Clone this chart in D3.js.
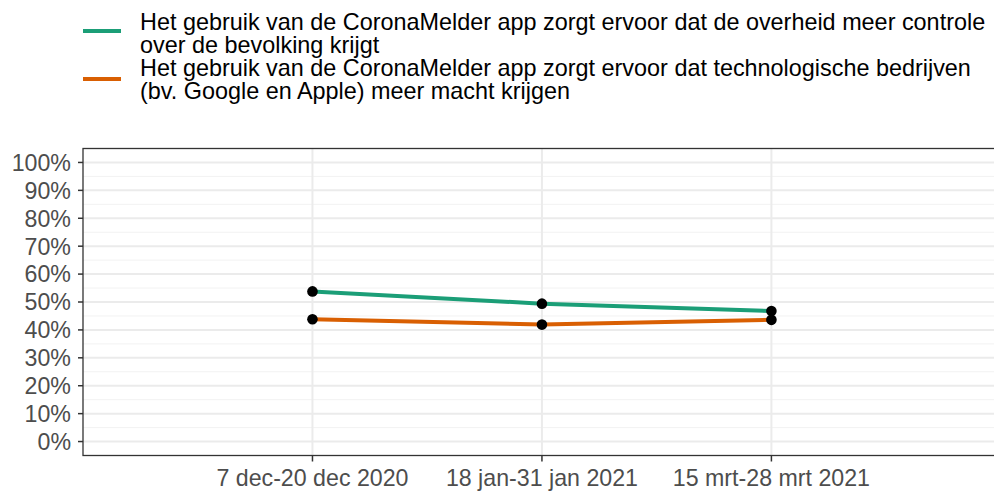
<!DOCTYPE html>
<html>
<head>
<meta charset="utf-8">
<script src="https://cdn.jsdelivr.net/npm/d3@7"></script>
<style>
  body { margin: 0; background: #fff; }
  svg { display: block; font-family: "Liberation Sans", Arial, sans-serif; }
</style>
</head>
<body>
<svg id="chart" width="994" height="492"></svg>
<script>
// Survey periods
const periods = ["7 dec-20 dec 2020", "18 jan-31 jan 2021", "15 mrt-28 mrt 2021"];

// Share agreeing with each statement (%)
const overheidControle = [53.8, 49.4, 46.8];
const techMacht = [43.8, 41.9, 43.6];

const seriesLabels = [
  ["Het gebruik van de CoronaMelder app zorgt ervoor dat de overheid meer controle", "over de bevolking krijgt"],
  ["Het gebruik van de CoronaMelder app zorgt ervoor dat technologische bedrijven", "(bv. Google en Apple) meer macht krijgen"]
];
const seriesColors = ["#1b9e77", "#d95f02"];

const yTicks = [0, 10, 20, 30, 40, 50, 60, 70, 80, 90, 100];
const yMinor = [5, 15, 25, 35, 45, 55, 65, 75, 85, 95];

const svg = d3.select("#chart");

const panel = { left: 83, right: 994, top: 148.5, bottom: 455.5 };
const fs = 23.2;
const legendFs = 23.4;

const x = d3.scaleLinear().domain([-1, 2.97]).range([panel.left, panel.right]);
const y = d3.scaleLinear().domain([-5, 105]).range([panel.bottom, panel.top]);

const g = svg.append("g");

// grid
g.selectAll(".minor").data(yMinor).enter().append("line")
  .attr("x1", panel.left).attr("x2", panel.right)
  .attr("y1", d => y(d)).attr("y2", d => y(d))
  .attr("stroke", "#f2f2f2").attr("stroke-width", 1);
g.selectAll(".major").data(yTicks).enter().append("line")
  .attr("x1", panel.left).attr("x2", panel.right)
  .attr("y1", d => y(d)).attr("y2", d => y(d))
  .attr("stroke", "#ebebeb").attr("stroke-width", 2);
g.selectAll(".vmajor").data(periods).enter().append("line")
  .attr("x1", (d, i) => x(i)).attr("x2", (d, i) => x(i))
  .attr("y1", panel.top).attr("y2", panel.bottom)
  .attr("stroke", "#ebebeb").attr("stroke-width", 2);

// series lines
const series = [overheidControle, techMacht];
const line = d3.line().x((d, i) => x(i)).y(d => y(d));
series.forEach((s, k) => {
  g.append("path").datum(s)
    .attr("d", line)
    .attr("fill", "none")
    .attr("stroke", seriesColors[k])
    .attr("stroke-width", 4);
});
series.forEach(s => {
  g.selectAll(null).data(s).enter().append("circle")
    .attr("cx", (d, i) => x(i)).attr("cy", d => y(d))
    .attr("r", 5.3).attr("fill", "#000");
});

// panel border
g.append("rect")
  .attr("x", panel.left).attr("y", panel.top)
  .attr("width", panel.right - panel.left + 2).attr("height", panel.bottom - panel.top)
  .attr("fill", "none").attr("stroke", "#333333").attr("stroke-width", 1.3);

// y axis
const yAxis = svg.append("g");
yTicks.forEach(t => {
  yAxis.append("line")
    .attr("x1", panel.left - 5).attr("x2", panel.left)
    .attr("y1", y(t)).attr("y2", y(t))
    .attr("stroke", "#333333").attr("stroke-width", 1.5);
  yAxis.append("text")
    .attr("x", panel.left - 12).attr("y", y(t))
    .attr("dy", "0.36em")
    .attr("text-anchor", "end")
    .attr("font-size", fs)
    .attr("fill", "#4d4d4d")
    .text(t + "%");
});

// x axis
const xAxis = svg.append("g");
periods.forEach((p, i) => {
  xAxis.append("line")
    .attr("x1", x(i)).attr("x2", x(i))
    .attr("y1", panel.bottom).attr("y2", panel.bottom + 6)
    .attr("stroke", "#333333").attr("stroke-width", 1.5);
  xAxis.append("text")
    .attr("x", x(i)).attr("y", 486)
    .attr("text-anchor", "middle")
    .attr("font-size", fs)
    .attr("fill", "#4d4d4d")
    .text(p);
});

// legend
const legend = svg.append("g");
const legendRows = [{ key: 31, lines: [29.5, 52.5] }, { key: 79, lines: [76, 99] }];
seriesLabels.forEach((lbl, k) => {
  legend.append("line")
    .attr("x1", 83).attr("x2", 121)
    .attr("y1", legendRows[k].key).attr("y2", legendRows[k].key)
    .attr("stroke", seriesColors[k]).attr("stroke-width", 4);
  lbl.forEach((txt, j) => {
    legend.append("text")
      .attr("x", 140).attr("y", legendRows[k].lines[j])
      .attr("font-size", legendFs)
      .attr("fill", "#000")
      .text(txt);
  });
});
</script>
</body>
</html>
